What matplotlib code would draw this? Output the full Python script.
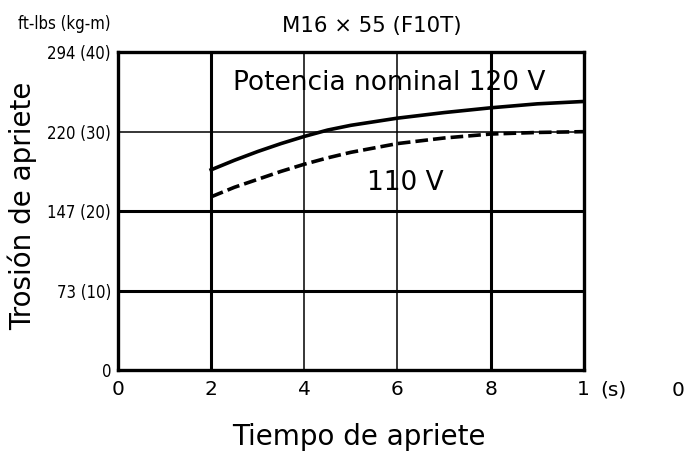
import matplotlib
matplotlib.use("Agg")
import matplotlib.pyplot as plt

# tightening time (s) and torque (kg-m)
t = [2, 2.5, 3, 3.5, 4, 4.5, 5, 6, 7, 8, 9, 10]
torque_120v = [25.2, 26.4, 27.5, 28.5, 29.4, 30.2, 30.8, 31.7, 32.4, 33.0, 33.5, 33.8]
torque_110v = [21.8, 23.0, 24.0, 25.0, 25.9, 26.7, 27.4, 28.5, 29.2, 29.7, 29.9, 30.0]

xticks = [0, 2, 4, 6, 8, 10]
xlabels = ["0", "2", "4", "6", "8", "1"]
yticks = [0, 10, 20, 30, 40]
ylabels = ["0", "73 (10)", "147 (20)", "220 (30)", "294 (40)"]

plt.rcParams['font.family'] = ['DejaVu Sans']

fig = plt.figure(figsize=(6.9, 4.54), dpi=100, facecolor='w')
ax = fig.add_axes([0.171, 0.185, 0.675, 0.70])

# grid: thick and thin lines as in the original
for x, w in [(2, 2.2), (4, 1.1), (6, 1.1), (8, 2.2)]:
    ax.axvline(x, color='k', linewidth=w, zorder=1)
for y, w in [(10, 2.2), (20, 2.2), (30, 1.1)]:
    ax.axhline(y, color='k', linewidth=w, zorder=1)

ax.plot(t, torque_120v, color='k', linewidth=2.6, zorder=3)
ax.plot(t, torque_110v, color='k', linewidth=2.6, linestyle=(0, (3.5, 1.4)), zorder=3)

ax.set_xlim(0, 10)
ax.set_ylim(0, 40)
for s in ax.spines.values():
    s.set_linewidth(2.4)

ax.set_xticks(xticks)
ax.set_xticklabels(xlabels, fontsize=14.5)
ax.set_yticks(yticks)
ax.set_yticklabels(ylabels, fontsize=12, fontstretch='condensed')
ax.tick_params(length=0)
ax.tick_params(axis='x', pad=7)
ax.tick_params(axis='y', pad=5)

ax.text(10.64, -0.063, "(s)", transform=ax.get_xaxis_transform(),
        ha='center', va='center', fontsize=14.5)
ax.text(12.02, -0.063, "0", transform=ax.get_xaxis_transform(),
        ha='center', va='center', fontsize=14.5)

ax.text(2.47, 35.2, "Potencia nominal 120 V", fontsize=19, ha='left', va='baseline')
ax.text(5.34, 22.6, "110 V", fontsize=19, ha='left', va='baseline')

fig.text(22 / 690, 1 - 206 / 454, "Trosión de apriete", fontsize=20,
         rotation=90, ha='center', va='center')
fig.text(359 / 690, 1 - 437 / 454, "Tiempo de apriete", fontsize=20,
         ha='center', va='center')

fig.text(0.026, 0.936, "ft-lbs (kg-m)", fontsize=12, fontstretch='condensed',
         ha='left', va='baseline')
fig.text(0.539, 0.9295, "M16 × 55 (F10T)", fontsize=15.3, ha='center', va='baseline')

fig.savefig("out.png", dpi=100, facecolor='w')
